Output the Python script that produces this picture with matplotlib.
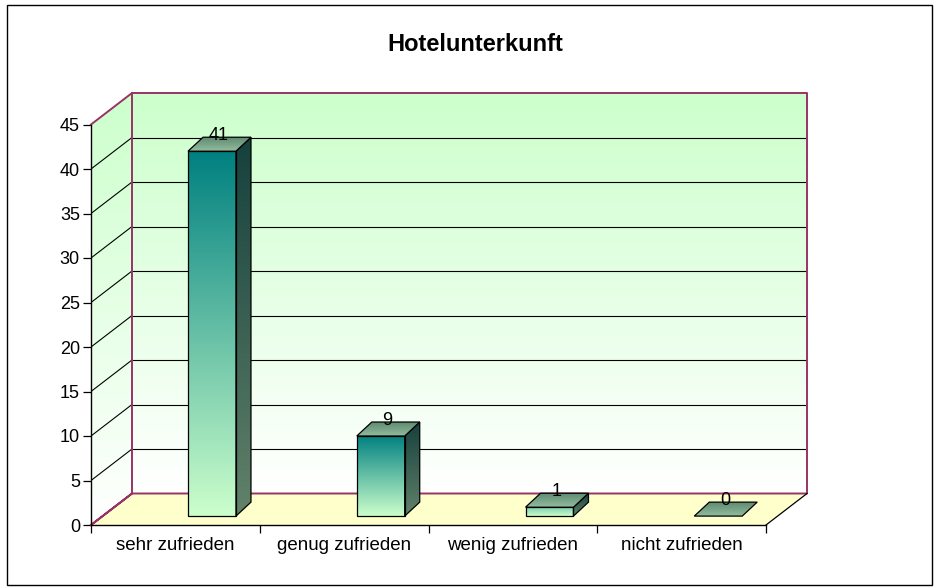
import numpy as np
import matplotlib
matplotlib.use('Agg')
import matplotlib.pyplot as plt
from matplotlib.patches import Polygon, Rectangle
from matplotlib.colors import LinearSegmentedColormap, to_rgb

# ---------------- data ----------------
title = 'Hotelunterkunft'
categories = ['sehr zufrieden', 'genug zufrieden', 'wenig zufrieden', 'nicht zufrieden']
values = [41, 9, 1, 0]
y_ticks = [0, 5, 10, 15, 20, 25, 30, 35, 40, 45]

plt.rcParams['font.family'] = ['Liberation Sans', 'DejaVu Sans']

W, H = 938, 587
fig = plt.figure(figsize=(W / 100, H / 100), dpi=100)

# layout (pixels)
x_front_l, x_front_r = 91, 766
y_front0, y_front45 = 525, 124.5
depth_px = (41, 31.5)
ncat = len(categories)
ymax = y_ticks[-1]
xscale = (x_front_r - x_front_l) / ncat
yscale = (y_front0 - y_front45) / ymax
DX = depth_px[0] / xscale
DY = depth_px[1] / yscale

ax = fig.add_axes([x_front_l / W, (H - y_front0) / H,
                   (x_front_r - x_front_l + depth_px[0]) / W,
                   (y_front0 - y_front45 + depth_px[1]) / H])
ax.patch.set_visible(False)

WALL = '#993366'


def mix(c1, c2, t):
    a, b = np.array(to_rgb(c1)), np.array(to_rgb(c2))
    return tuple(a + (b - a) * t)


def grad_poly(verts, c_top, c_bot, z, edge='none', lw=0.9):
    xs = [v[0] for v in verts]
    ys = [v[1] for v in verts]
    cmap = LinearSegmentedColormap.from_list('g', [c_bot, c_top])
    grad = np.linspace(0, 1, 256).reshape(-1, 1)
    im = ax.imshow(grad, cmap=cmap, origin='lower',
                   extent=[min(xs), max(xs), min(ys), max(ys)],
                   aspect='auto', zorder=z, interpolation='bilinear')
    clip = Polygon(verts, closed=True, transform=ax.transData)
    im.set_clip_path(clip)
    ax.add_patch(Polygon(verts, closed=True, facecolor='none', edgecolor=edge,
                         lw=lw, zorder=z + 0.01, joinstyle='miter'))


# back wall
grad_poly([(DX, DY), (ncat + DX, DY), (ncat + DX, ymax + DY), (DX, ymax + DY)],
          '#CCFFCC', '#FFFFFF', 1)
# side wall
grad_poly([(0, 0), (DX, DY), (DX, ymax + DY), (0, ymax)],
          '#CCFFCC', '#FFFFFF', 1)
# floor
ax.add_patch(Polygon([(0, 0), (ncat, 0), (ncat + DX, DY), (DX, DY)], closed=True,
                     facecolor='#FFFFCC', edgecolor='none', zorder=1))

# gridlines
for k in y_ticks[1:-1]:
    ax.plot([DX, ncat + DX], [k + DY, k + DY], color='black', lw=0.8, zorder=2)
    ax.plot([0, DX], [k, k + DY], color='black', lw=0.8, zorder=2)

# wall edges
ax.plot([0, DX, ncat + DX, ncat + DX, DX, DX, 0],
        [0, DY, DY, ymax + DY, ymax + DY, DY, 0], color=WALL, lw=1.4,
        zorder=3, clip_on=False)
ax.plot([0, DX], [ymax, ymax + DY], color=WALL, lw=1.4, zorder=3, clip_on=False)
ax.plot([ncat, ncat + DX], [0, DY], color='black', lw=0.9, zorder=3, clip_on=False)

# bars
bar_off = 0.575
bar_w = 0.284
bar_base = 1.0
bdx, bdy = 0.089, 1.57
for i, v in enumerate(values):
    x0 = i + bar_off
    y0 = bar_base
    if v > 0:
        top_c = mix('#CCFFCC', '#008080', min(1.0, v / 2.5))
        grad_poly([(x0, y0), (x0 + bar_w, y0), (x0 + bar_w, y0 + v), (x0, y0 + v)],
                  top_c, '#CCFFCC', 5, edge='black')
        grad_poly([(x0 + bar_w, y0), (x0 + bar_w + bdx, y0 + bdy),
                   (x0 + bar_w + bdx, y0 + v + bdy), (x0 + bar_w, y0 + v)],
                  '#15403C', '#62826A', 5, edge='black')
    grad_poly([(x0, y0 + v), (x0 + bar_w, y0 + v), (x0 + bar_w + bdx, y0 + v + bdy),
               (x0 + bdx, y0 + v + bdy)],
              '#5E8A72', '#93BC9E', 6, edge='black')
    ax.text(x0 + bar_w / 2 + 0.04, y0 + v + 1.75, str(v), ha='center', va='center',
            fontsize=13, zorder=8)

# axes / ticks
ax.set_xlim(0, ncat + DX)
ax.set_ylim(0, ymax + DY)
for s in ['top', 'right']:
    ax.spines[s].set_visible(False)
ax.spines['left'].set_bounds(0, ymax)
ax.spines['bottom'].set_bounds(0, ncat)
for s in ['left', 'bottom']:
    ax.spines[s].set_linewidth(1.0)
    ax.spines[s].set_zorder(4)
ax.set_yticks(y_ticks)
ax.set_yticklabels([str(t) for t in y_ticks])
ax.tick_params(axis='y', direction='out', length=6, width=0.9, pad=2, labelsize=13)
ax.set_xticks(np.arange(ncat + 1))
ax.set_xticklabels([''] * (ncat + 1))
ax.tick_params(axis='x', which='major', direction='out', length=5.8, width=0.9)
ax.set_xticks(np.arange(ncat) + 0.5, minor=True)
ax.set_xticklabels(categories, minor=True)
ax.tick_params(axis='x', which='minor', length=0, pad=9, labelsize=13.5)

# title
fig.text(475.5 / W, 1 - 51 / H, title, ha='center', va='baseline',
         fontsize=17, fontweight='bold')

# outer border
fig.add_artist(Rectangle((7 / W, 1 - 585 / H), (932 - 7) / W, (585 - 5) / H,
                         transform=fig.transFigure, fill=False, ec='black', lw=1.0))

fig.savefig('out.png', dpi=100)
